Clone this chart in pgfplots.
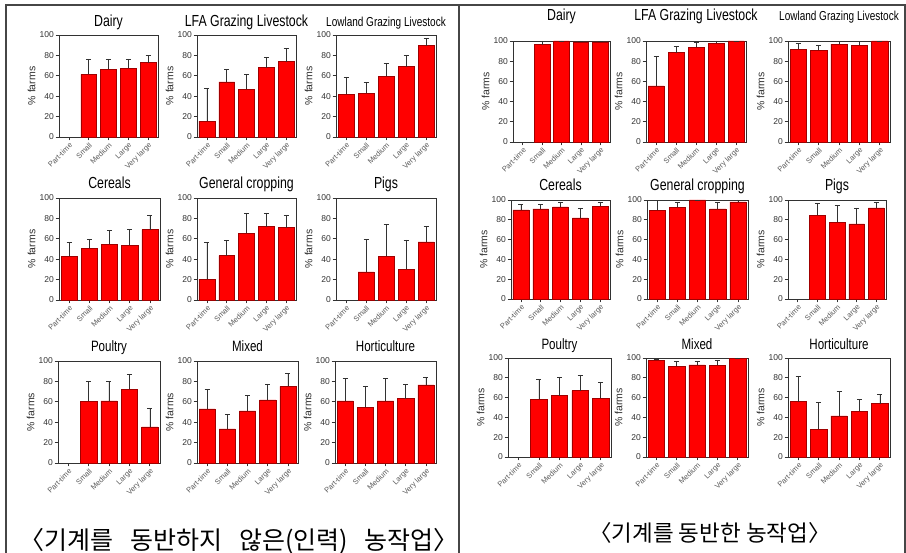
\documentclass[border=0pt]{standalone}
\usepackage{fontspec}
\setmainfont{Liberation Sans}
\newfontfamily\kr{Noto Sans CJK KR}
\usepackage{graphicx}
\usepackage{pgfplots}
\usepackage{pgfplotstable}
\pgfplotsset{compat=1.18}

\definecolor{barred}{RGB}{255,0,0}
\definecolor{baredge}{RGB}{160,0,0}
\definecolor{axgray}{RGB}{50,50,50}
\definecolor{lblgray}{RGB}{90,90,90}
\definecolor{framegray}{RGB}{70,70,70}

% horizontally condensed text
\newcommand\sq[2][0.77]{\scalebox{#1}[1]{#2}}

% ---- share of farms (%) by size class: x, bar value, top of error bar ----
% without machinery
\pgfplotstableread{
x y top
1 61.5 76.5
2 66.5 76.5
3 67.5 76.5
4 73 80
}\LDairy
\pgfplotstableread{
x y top
0 15.5 48
1 54 66
2 47 61.5
3 68 78
4 74 87
}\LLFA
\pgfplotstableread{
x y top
0 42 59
1 43 53.5
2 59.5 72.5
3 69 80
4 89.5 96.5
}\LLow
\pgfplotstableread{
x y top
0 43 56.5
1 50.5 60
2 54.5 68
3 53.5 69.5
4 69 83.5
}\LCer
\pgfplotstableread{
x y top
0 20.5 56.5
1 43.5 58.5
2 65.5 85
3 72 85.5
4 71 83.5
}\LGC
\pgfplotstableread{
x y top
1 27.5 59.5
2 43 74
3 30 59
4 57 72.5
}\LPig
\pgfplotstableread{
x y top
1 60.5 80
2 61 80
3 72.5 87
4 35.5 54
}\LPou
\pgfplotstableread{
x y top
0 53 72.5
1 33.5 47.5
2 51 66
3 62 77.5
4 75 88
}\LMix
\pgfplotstableread{
x y top
0 61 83
1 54.5 75.5
2 61 83
3 63 77
4 76.5 84.5
}\LHor
% with machinery
\pgfplotstableread{
x y top
1 96.5 100
2 100 100
3 99 100
4 99 100
}\RDairy
\pgfplotstableread{
x y top
0 55.5 84.5
1 88.5 94.5
2 94 98.5
3 98 100
4 100 100
}\RLFA
\pgfplotstableread{
x y top
0 92 97.5
1 91 96
2 97 99.5
3 96 99.5
4 100 100
}\RLow
\pgfplotstableread{
x y top
0 90 95.5
1 91 95.5
2 93 98
3 82 92
4 93.5 98
}\RCer
\pgfplotstableread{
x y top
0 89.5 99.5
1 92.5 97.5
2 100 100
3 91 97.5
4 98 100
}\RGC
\pgfplotstableread{
x y top
1 84.5 96.5
2 77.5 94.5
3 76 92
4 92 97.5
}\RPig
\pgfplotstableread{
x y top
1 58.5 79
2 62 81
3 67 83
4 59.5 76
}\RPou
\pgfplotstableread{
x y top
0 97.5 99
1 91.5 96.5
2 93 96.5
3 92.5 97.5
4 99.5 100
}\RMix
\pgfplotstableread{
x y top
0 56 82
1 28 55
2 41.5 66.5
3 46 58
4 54 63
}\RHor

\pgfplotsset{
  farm/.style={
    scale only axis,
    anchor=south west,
    clip=false,
    ymin=0, ymax=100, ytick={0,20,...,100},
    xmin=-0.5, xmax=4.5,
    xtick={0,...,4},
    xticklabels={Part-time,Small,Medium,Large,Very large},
    xtick pos=lower, ytick pos=left,
    tick align=outside,
    major tick length=3.5pt,
    axis line style={axgray, line width=0.9pt},
    every tick/.style={axgray, line width=0.7pt},
    /pgf/number format/assume math mode=true,
    yticklabel style={font=\fontsize{8.5}{8.5}\selectfont, text=axgray, inner sep=1.5pt},
    xticklabel style={font=\fontsize{7.5}{7.5}\selectfont, text=lblgray,
      rotate=45, anchor=north east, inner sep=1pt},
    ylabel={\% farms},
    ylabel style={font=\fontsize{10.5}{10.5}\selectfont, text=axgray, yshift=-1pt},
    title style={at={(0.5,1)}, anchor=base, text=black},
    ybar, bar width=0.8,
  },
  farmbar/.style={fill=barred, draw=baredge, line width=0.5pt,
    error bars/.cd, y dir=plus, y explicit,
    error bar style={axgray, line width=0.5pt},
    error mark options={rotate=90, mark size=2.5pt, axgray, line width=0.5pt}},
}

% #1 left x, #2 bottom y (from top of page), #3 width, #4 height,
% #5 title, #6 title size, #7 extra title shift, #8 table
\newcommand\farmplot[8]{%
  \begin{axis}[farm, at={(#1pt,553pt-#2pt)}, width=#3pt, height=#4pt,
    title={\sq{#5}}, title style={font=\fontsize{#6}{#6}\selectfont, yshift=#7pt}]
    \addplot[farmbar] table[x=x, y=y, y error expr=\thisrow{top}-\thisrow{y}] {#8};
  \end{axis}}

\begin{document}
\begin{tikzpicture}
\useasboundingbox (0pt,0pt) rectangle (906pt,553pt);
% frame and divider
\draw[framegray, line width=1.1pt] (6pt,0pt) -- (6pt,548pt) -- (905pt,548pt) -- (905pt,0pt);
\draw[framegray, line width=1.1pt] (459pt,0pt) -- (459pt,548pt);

% without machinery
\farmplot{59}{137}{99}{102}{Dairy}{16}{2.5}{\LDairy}
\farmplot{197}{137}{99}{102}{LFA Grazing Livestock}{16}{2.5}{\LLFA}
\farmplot{336}{137}{100}{102}{Lowland Grazing Livestock}{13}{2.5}{\LLow}
\farmplot{59}{300}{101}{102}{Cereals}{16}{3}{\LCer}
\farmplot{197}{300}{99}{102}{General cropping}{16}{3}{\LGC}
\farmplot{336}{300}{100}{102}{Pigs}{16}{3}{\LPig}
\farmplot{58}{463}{102}{102}{Poultry}{15}{3}{\LPou}
\farmplot{197}{463}{101}{102}{Mixed}{15}{3}{\LMix}
\farmplot{335}{463}{101}{102}{Horticulture}{15}{3}{\LHor}

% with machinery
\farmplot{513}{142}{97}{101}{Dairy}{16}{14}{\RDairy}
\farmplot{646}{142}{100}{101}{LFA Grazing Livestock}{16}{14}{\RLFA}
\farmplot{788}{142}{102}{101}{Lowland Grazing Livestock}{13}{14}{\RLow}
\farmplot{511}{299}{99}{99}{Cereals}{16}{3}{\RCer}
\farmplot{647}{299}{101}{99}{General cropping}{16}{3}{\RGC}
\farmplot{788}{299}{98}{99}{Pigs}{16}{3}{\RPig}
\farmplot{508}{457}{103}{99}{Poultry}{15}{2}{\RPou}
\farmplot{646}{457}{102}{99}{Mixed}{15}{2}{\RMix}
\farmplot{788}{457}{102}{99}{Horticulture}{15}{2}{\RHor}

% captions
\node[font=\kr\fontsize{25}{25}\selectfont, inner sep=0pt] at (239pt,12pt)
  {〈기계를\hspace{17pt}동반하지\hspace{17pt}않은(인력)\hspace{17pt}농작업〉};
\node[font=\kr\fontsize{22.5}{22.5}\selectfont, inner sep=0pt] at (710pt,20pt)
  {〈기계를 동반한 농작업〉};
\end{tikzpicture}
\end{document}
